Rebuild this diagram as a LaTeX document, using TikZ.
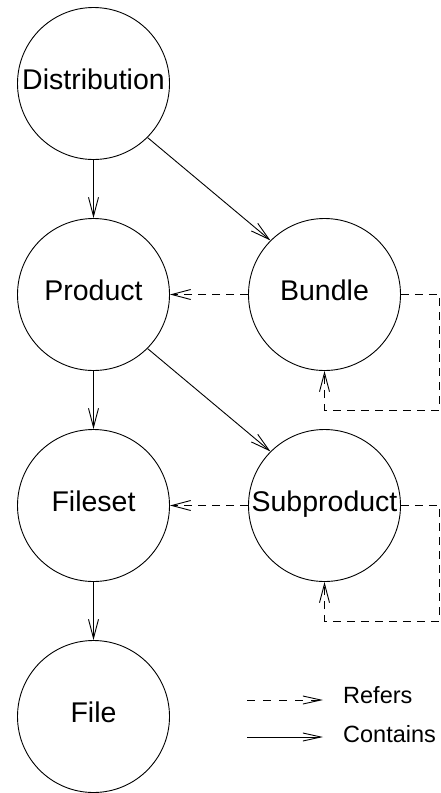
\documentclass[tikz,border=0pt]{standalone}
\usepackage{fontspec}
\setmainfont{Liberation Sans}
\usetikzlibrary{arrows.meta}
\begin{document}
\begin{tikzpicture}[x=1pt,y=-1pt,
  entity/.style={draw, circle, line width=0.9pt, minimum size=152pt, inner sep=0pt,
    text height=20pt, text depth=8pt, font=\fontsize{28.5}{30}\selectfont},
  tip/.style={-{Straight Barb[length=19pt,width=10pt,line width=0.9pt]}},
  legtip/.style={-{Straight Barb[length=18pt,width=8pt,line width=0.9pt]}},
  contains/.style={tip, line width=0.9pt},
  refers/.style={tip, line width=0.9pt, dash pattern=on 8pt off 6pt},
  legtext/.style={anchor=west, inner sep=0pt, text height=17pt, text depth=0pt,
    font=\fontsize{23.5}{25}\selectfont}]
\useasboundingbox (0,0) rectangle (440,793);

% entities
\node[entity] (dist) at (93.5,83.5) {Distribution};
\node[entity] (prod) at (93.5,294.5) {Product};
\node[entity] (bund) at (324.5,294.5) {Bundle};
\node[entity] (fset) at (93.5,505.5) {Fileset};
\node[entity] (subp) at (324.5,505.5) {Subproduct};
\node[entity] (file) at (93.5,716.5) {File};

% containment
\draw[contains] (dist.south) -- (prod.north);
\draw[contains] (dist.-45) -- (bund.135);
\draw[contains] (prod.south) -- (fset.north);
\draw[contains] (prod.-45) -- (subp.135);
\draw[contains] (fset.south) -- (file.north);

% references
\draw[refers] (bund.west) -- (prod.east);
\draw[refers] (subp.west) -- (fset.east);
\coordinate (bloop) at (439,410);
\coordinate (sloop) at (439,621);
\draw[refers] (bund.east) -| (bloop) -| (bund.south);
\draw[refers] (subp.east) -| (sloop) -| (subp.south);

% legend
\coordinate (ra) at (247,700);
\coordinate (rb) at (323,700);
\coordinate (ca) at (247,737);
\coordinate (cb) at (323,737);
\draw[legtip, line width=0.9pt, dash pattern=on 8pt off 8pt] (ra) -- (rb);
\draw[legtip, line width=0.9pt] (ca) -- (cb);
\node[legtext] (lr) at (343,694.5) {Refers};
\node[legtext] (lc) at (343,733.5) {Contains};
\end{tikzpicture}
\end{document}
